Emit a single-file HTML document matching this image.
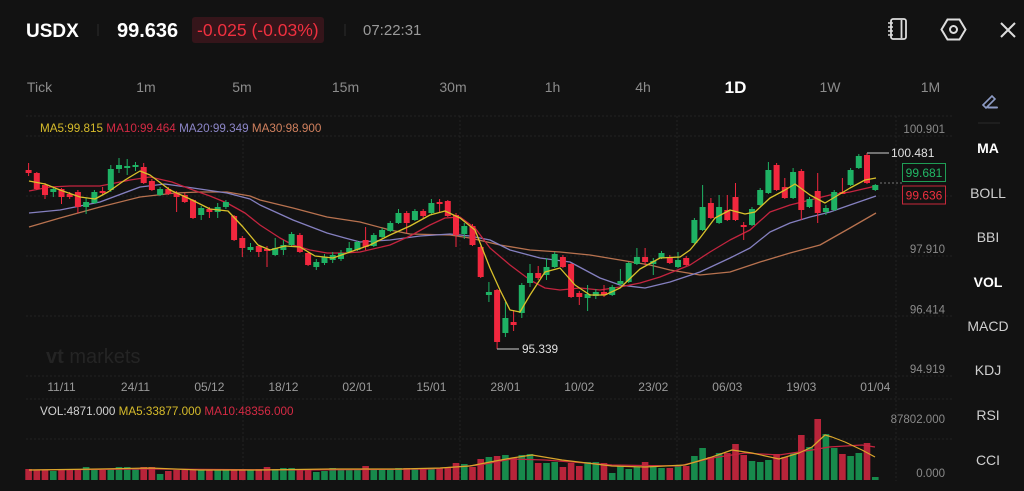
<!DOCTYPE html>
<html><head><meta charset="utf-8"><style>
html,body{margin:0;padding:0;background:#121212;}
svg{display:block;font-family:"Liberation Sans",sans-serif;}
</style></head><body>
<svg width="1024" height="491" viewBox="0 0 1024 491" xmlns="http://www.w3.org/2000/svg">
<rect width="1024" height="491" fill="#121212"/>
<!-- header -->
<text x="26" y="37" font-size="19" font-weight="bold" fill="#ffffff">USDX</text>
<line x1="98" y1="24" x2="98" y2="36" stroke="#2c2c2c"/>
<text x="117" y="37" font-size="20" font-weight="bold" fill="#ffffff">99.636</text>
<rect x="192" y="17" width="132" height="26" rx="3" fill="#35151a"/>
<text x="197" y="36" font-size="17.5" fill="#f0303f">-0.025 (-0.03%)</text>
<line x1="345" y1="24" x2="345" y2="36" stroke="#2c2c2c"/>
<text x="363" y="35" font-size="15" fill="#9a9a9a">07:22:31</text>
<!-- icons -->
<g stroke="#dddddd" fill="none" stroke-width="1.8">
<rect x="891" y="19" width="15" height="20" rx="2"/>
<line x1="901.5" y1="20" x2="901.5" y2="38"/>
<path d="M888 23h5M888 27h5M888 31h5M888 35h5" stroke-width="1.4"/>
<path d="M947.5 19.5L959.5 19.5L965.5 29.5L959.5 39.5L947.5 39.5L941.5 29.5Z" stroke-width="2"/>
<circle cx="953.5" cy="29.5" r="3.5" stroke-width="2"/>
<path d="M1001 23L1015 37M1015 23L1001 37" stroke-width="2"/>
</g>
<!-- timeframe row -->
<g font-size="14" fill="#8c8c8c" text-anchor="middle">
<text x="39.5" y="92">Tick</text>
<text x="146" y="92">1m</text>
<text x="242" y="92">5m</text>
<text x="345.5" y="92">15m</text>
<text x="453" y="92">30m</text>
<text x="552.5" y="92">1h</text>
<text x="643" y="92">4h</text>
<text x="830" y="92">1W</text>
<text x="930.5" y="92">1M</text>
</g>
<text x="735.5" y="93" font-size="17" font-weight="bold" fill="#ffffff" text-anchor="middle">1D</text>
<!-- pencil -->
<g stroke="#8d9bc4" stroke-width="2" fill="none" stroke-linecap="round">
<path d="M983 105L992 96L995 99L986 108Z" stroke-width="1.6"/>
<line x1="988" y1="107.5" x2="997" y2="107.5"/>
</g>
<line x1="978" y1="123" x2="1000" y2="123" stroke="#2a2a2a"/>
<!-- grid -->
<g stroke="#232323" stroke-width="1" stroke-dasharray="2 2">
<line x1="26" y1="116" x2="952" y2="116"/>
<line x1="26" y1="136" x2="952" y2="136"/>
<line x1="26" y1="196" x2="952" y2="196"/>
<line x1="26" y1="256" x2="952" y2="256"/>
<line x1="26" y1="316" x2="952" y2="316"/>
<line x1="26" y1="376" x2="952" y2="376"/>
<line x1="26" y1="399" x2="952" y2="399"/>
<line x1="26" y1="439" x2="952" y2="439"/>
<line x1="243" y1="116" x2="243" y2="481"/>
<line x1="460" y1="116" x2="460" y2="481"/>
<line x1="677" y1="116" x2="677" y2="481"/>
<line x1="896" y1="116" x2="896" y2="481"/>
</g>
<!-- watermark -->
<text x="46" y="363" font-size="20" fill="#242424"><tspan font-weight="bold">vt</tspan> markets</text>
<!-- legend -->
<text x="40" y="132" font-size="11.7"><tspan fill="#d6bb2b">MA5:99.815 </tspan><tspan fill="#d42a44">MA10:99.464 </tspan><tspan fill="#8c86c8">MA20:99.349 </tspan><tspan fill="#d0805e">MA30:98.900</tspan></text>
<!-- price axis -->
<g font-size="11.5" fill="#8a8a8a" text-anchor="end">
<text x="945" y="133">100.901</text>
<text x="945" y="253">97.910</text>
<text x="945" y="313.5">96.414</text>
<text x="945" y="373">94.919</text>
<text x="945" y="423">87802.000</text>
<text x="945" y="477">0.000</text>
</g>
<!-- MA lines -->
<g fill="none" stroke-width="1.3" stroke-linejoin="round">
<polyline stroke="#b8724f" points="29,227 60,218 100,207 140,197 175,193 200,192 227,192 250,196 260,200 293,208 327,217 360,222 390,230 410,234 450,235 470,238 500,245 530,250 560,252 590,255 620,260 650,265 670,270 700,275 730,272 760,262 790,253 820,245 850,228 876,213"/>
<polyline stroke="#8580c0" points="29,213 60,210 100,202 140,187 165,184 193,188 227,193 250,199 260,205 293,220 327,233 345,238 360,242 390,240 420,236 450,234 470,236 490,240 510,250 540,258 570,262 600,278 620,285 645,288 670,282 700,272 730,258 750,248 770,232 790,223 810,217 830,212 850,205 876,196"/>
<polyline stroke="#c4243f" points="29,191 50,187 70,186 100,186 130,180 150,177 172,182 193,190 210,196 227,203 245,213 260,225 280,238 293,245 310,250 327,253 345,253 360,252 390,245 410,236 430,225 445,218 460,217 475,228 490,248 510,265 530,280 545,288 560,290 580,288 600,290 620,287 640,283 660,277 690,265 710,252 730,240 750,230 770,212 790,205 810,200 830,195 850,192 876,186"/>
</g>
<!-- candles -->
<g stroke="#1eb264" stroke-width="1" fill="none">
<path d="M53.3 187V197M86.1 198V214M94.4 190V204M110.8 165V192M119 158V173M127.2 159V175M135.5 162V171M160.1 187V196M201.2 206V220M217.7 203V218M225.9 200V209M250.5 243V252M275.2 238V256M283.4 240V255M291.6 232V246M316.3 259V270M324.5 254V265M332.7 252V263M341 250V261M349.2 242V253M357.4 241V251M373.8 233V247M382.1 228V238M390.3 221V232M398.5 209V224M414.9 209V221M431.4 199V214M464.3 223V239M488.9 282V302M505.4 302V337M521.8 283V318M530 264V287M546.5 258V280M554.7 252V268M587.6 285V311M595.8 289V299M612.2 285V296M620.4 269V285M628.7 262V283M636.9 248V265M653.3 258V275M661.5 251V259M678 252V268M694.4 218V244M702.6 185V231M719.1 195V224M752 207V226M760.2 188V206M768.4 162V194M793.1 168V199M809.5 197V208M825.9 205V215M834.2 190V211M850.6 168V186M858.8 154V169M875.3 184V191"/>
</g>
<path fill="#1eb264" d="M50.3 189h6v3h-6zM83.1 202h6v5h-6zM91.4 192h6v11h-6zM107.8 169h6v21h-6zM116 165h6v4h-6zM124.2 166h6v2h-6zM132.5 165h6v2h-6zM157.1 189h6v6h-6zM198.2 208h6v7h-6zM214.7 207h6v5h-6zM222.9 202h6v5h-6zM247.5 247h6v3h-6zM272.2 248h6v7h-6zM280.4 245h6v5h-6zM288.6 234h6v11h-6zM313.3 262h6v5h-6zM321.5 257h6v6h-6zM329.7 255h6v5h-6zM338 253h6v6h-6zM346.2 248h6v4h-6zM354.4 242h6v8h-6zM370.8 235h6v11h-6zM379.1 230h6v7h-6zM387.3 223h6v8h-6zM395.5 213h6v10h-6zM411.9 211h6v9h-6zM428.4 203h6v10h-6zM461.3 226h6v8h-6zM485.9 292h6v3h-6zM502.4 318h6v15h-6zM518.8 285h6v28h-6zM527 273h6v10h-6zM543.5 267h6v8h-6zM551.7 254h6v13h-6zM584.6 294h6v4h-6zM592.8 292h6v4h-6zM609.2 287h6v8h-6zM617.4 281h6v3h-6zM625.7 263h6v19h-6zM633.9 257h6v7h-6zM650.3 261h6v3h-6zM658.5 253h6v5h-6zM675 260h6v7h-6zM691.4 220h6v23h-6zM699.6 207h6v23h-6zM716.1 207h6v16h-6zM749 209h6v16h-6zM757.2 190h6v15h-6zM765.4 170h6v23h-6zM790.1 172h6v26h-6zM806.5 199h6v8h-6zM822.9 208h6v4h-6zM831.2 192h6v18h-6zM847.6 170h6v15h-6zM855.8 156h6v12h-6zM872.3 185h6v5h-6z"/>
<g stroke="#f1273e" stroke-width="1" fill="none">
<path d="M28.6 163V176M36.8 172V190M45 183V199M61.5 188V204M69.7 192V199M77.9 190V213M102.6 187V195M143.7 163V184M151.9 179V191M168.3 187V195M176.6 191V212M184.8 193V203M193 199V219M209.4 207V218M234.1 215V241M242.3 236V257M258.8 245V257M267 246V267M299.9 233V253M308.1 252V266M365.6 227V250M406.7 211V233M423.2 209V218M439.6 199V212M447.8 200V217M456 213V247M472.5 224V246M480.7 246V278M497.1 289V349M513.6 310V331M538.2 266V280M562.9 255V268M571.1 263V298M579.3 291V305M604 285V297M645.1 248V265M669.8 255V264M686.2 256V266M710.9 198V219M727.3 195V221M735.5 183V221M743.7 222V240M776.6 163V191M784.8 178V199M801.3 169V220M817.7 173V223M842.4 178V194M867 153V184"/>
</g>
<path fill="#f1273e" d="M25.6 170h6v3h-6zM33.8 173h6v16h-6zM42 185h6v10h-6zM58.5 189h6v8h-6zM66.7 194h6v3h-6zM74.9 192h6v15h-6zM99.6 191h6v2h-6zM140.7 167h6v16h-6zM148.9 181h6v9h-6zM165.3 189h6v5h-6zM173.6 193h6v4h-6zM181.8 195h6v7h-6zM190 200h6v18h-6zM206.4 209h6v3h-6zM231.1 216h6v24h-6zM239.3 238h6v10h-6zM255.8 246h6v6h-6zM264 249h6v2h-6zM296.9 235h6v17h-6zM305.1 253h6v12h-6zM362.6 240h6v7h-6zM403.7 213h6v10h-6zM420.2 211h6v5h-6zM436.6 202h6v2h-6zM444.8 201h6v15h-6zM453 215h6v20h-6zM469.5 226h6v19h-6zM477.7 247h6v30h-6zM494.1 290h6v52h-6zM510.6 322h6v3h-6zM535.2 273h6v5h-6zM559.9 257h6v10h-6zM568.1 264h6v33h-6zM576.3 293h6v4h-6zM601 292h6v3h-6zM642.1 257h6v5h-6zM666.8 257h6v6h-6zM683.2 258h6v7h-6zM707.9 203h6v15h-6zM724.3 210h6v10h-6zM732.5 197h6v23h-6zM740.7 225h6v2h-6zM773.6 165h6v25h-6zM781.8 187h6v11h-6zM798.3 171h6v39h-6zM814.7 191h6v22h-6zM839.4 192h6v2h-6zM864 155h6v28h-6z"/>
<!-- MA5 on top -->
<polyline fill="none" stroke="#d9c12b" stroke-width="1.3" stroke-linejoin="round" points="29,181 45,184 60,190 80,197 95,199 108,192 125,180 140,171 150,175 170,190 190,199 210,209 228,211 243,227 258,245 270,250 285,246 300,247 315,256 333,258 350,252 370,245 390,235 410,226 430,215 445,211 460,218 475,230 490,268 500,290 510,310 520,312 530,295 545,272 560,268 575,285 590,295 605,295 620,288 640,269 660,258 680,257 690,250 700,238 715,218 730,210 745,214 755,212 770,198 785,190 795,184 810,195 825,203 835,197 850,188 865,180 876,178"/>
<!-- annotations -->
<line x1="867" y1="153" x2="889" y2="153" stroke="#aaaaaa" stroke-width="1.2"/>
<text x="891" y="157" font-size="12" fill="#e0e0e0">100.481</text>
<line x1="497" y1="349" x2="519" y2="349" stroke="#aaaaaa" stroke-width="1.2"/>
<text x="522" y="353" font-size="11.8" fill="#e0e0e0">95.339</text>
<line x1="880" y1="183" x2="902" y2="183" stroke="#777" stroke-dasharray="2 2"/>
<rect x="902.5" y="163.5" width="43" height="18" fill="#121212" stroke="#1f9d55"/>
<text x="924" y="177" font-size="12" fill="#22b866" text-anchor="middle">99.681</text>
<rect x="902.5" y="186" width="43" height="18" fill="#121212" stroke="#c8283a"/>
<text x="924" y="199.5" font-size="12" fill="#f0303f" text-anchor="middle">99.636</text>
<!-- dates -->
<g font-size="12" fill="#9a9a9a" text-anchor="middle">
<text x="61.5" y="391">11/11</text>
<text x="135.5" y="391">24/11</text>
<text x="209.4" y="391">05/12</text>
<text x="283.4" y="391">18/12</text>
<text x="357.4" y="391">02/01</text>
<text x="431.4" y="391">15/01</text>
<text x="505.4" y="391">28/01</text>
<text x="579.3" y="391">10/02</text>
<text x="653.3" y="391">23/02</text>
<text x="727.3" y="391">06/03</text>
<text x="801.3" y="391">19/03</text>
<text x="875.3" y="391">01/04</text>
</g>
<!-- volume legend -->
<text x="40" y="415" font-size="11.7"><tspan fill="#d0d0d0">VOL:4871.000 </tspan><tspan fill="#d6bb2b">MA5:33877.000 </tspan><tspan fill="#d42a44">MA10:48356.000</tspan></text>
<!-- volume bars -->
<path fill="#b8243a" d="M25.3 469h6.6v11h-6.6zM33.5 470h6.6v10h-6.6zM41.7 470h6.6v10h-6.6zM58.2 470h6.6v10h-6.6zM66.4 470h6.6v10h-6.6zM74.6 469h6.6v11h-6.6zM99.3 470h6.6v10h-6.6zM140.4 467h6.6v13h-6.6zM148.6 467h6.6v13h-6.6zM165 471h6.6v9h-6.6zM173.3 470h6.6v10h-6.6zM181.5 470h6.6v10h-6.6zM189.7 469h6.6v11h-6.6zM206.1 470h6.6v10h-6.6zM230.8 469h6.6v11h-6.6zM239 469h6.6v11h-6.6zM255.5 469h6.6v11h-6.6zM263.7 467h6.6v13h-6.6zM296.6 469h6.6v11h-6.6zM304.8 469h6.6v11h-6.6zM362.3 466h6.6v14h-6.6zM403.4 468h6.6v12h-6.6zM419.9 468h6.6v12h-6.6zM436.3 468h6.6v12h-6.6zM444.5 468h6.6v12h-6.6zM452.7 463h6.6v17h-6.6zM469.2 467h6.6v13h-6.6zM477.4 459h6.6v21h-6.6zM493.8 456h6.6v24h-6.6zM510.3 458h6.6v22h-6.6zM534.9 463h6.6v17h-6.6zM559.6 467h6.6v13h-6.6zM567.8 463h6.6v17h-6.6zM576 466h6.6v14h-6.6zM600.7 463h6.6v17h-6.6zM641.8 462h6.6v18h-6.6zM666.5 468h6.6v12h-6.6zM682.9 466h6.6v14h-6.6zM707.6 457h6.6v23h-6.6zM724 453h6.6v27h-6.6zM732.2 444h6.6v36h-6.6zM740.4 455h6.6v25h-6.6zM773.3 454h6.6v26h-6.6zM781.5 457h6.6v23h-6.6zM798 435h6.6v45h-6.6zM814.4 419h6.6v61h-6.6zM839.1 454h6.6v26h-6.6zM863.7 443h6.6v37h-6.6z"/>
<path fill="#178a4c" d="M50 471h6.6v9h-6.6zM82.8 467h6.6v13h-6.6zM91.1 470h6.6v10h-6.6zM107.5 469h6.6v11h-6.6zM115.7 467h6.6v13h-6.6zM123.9 467h6.6v13h-6.6zM132.2 469h6.6v11h-6.6zM156.8 474h6.6v6h-6.6zM197.9 470h6.6v10h-6.6zM214.4 470h6.6v10h-6.6zM222.6 470h6.6v10h-6.6zM247.2 470h6.6v10h-6.6zM271.9 469h6.6v11h-6.6zM280.1 468h6.6v12h-6.6zM288.3 468h6.6v12h-6.6zM313 472h6.6v8h-6.6zM321.2 471h6.6v9h-6.6zM329.4 468h6.6v12h-6.6zM337.7 470h6.6v10h-6.6zM345.9 470h6.6v10h-6.6zM354.1 470h6.6v10h-6.6zM370.5 469h6.6v11h-6.6zM378.8 469h6.6v11h-6.6zM387 469h6.6v11h-6.6zM395.2 468h6.6v12h-6.6zM411.6 469h6.6v11h-6.6zM428.1 468h6.6v12h-6.6zM461 464h6.6v16h-6.6zM485.6 457h6.6v23h-6.6zM502.1 455h6.6v25h-6.6zM518.5 455h6.6v25h-6.6zM526.7 454h6.6v26h-6.6zM543.2 463h6.6v17h-6.6zM551.4 462h6.6v18h-6.6zM584.3 462h6.6v18h-6.6zM592.5 462h6.6v18h-6.6zM608.9 473h6.6v7h-6.6zM617.1 466h6.6v14h-6.6zM625.4 469h6.6v11h-6.6zM633.6 467h6.6v13h-6.6zM650 466h6.6v14h-6.6zM658.2 468h6.6v12h-6.6zM674.7 466h6.6v14h-6.6zM691.1 456h6.6v24h-6.6zM699.3 448h6.6v32h-6.6zM715.8 453h6.6v27h-6.6zM748.7 461h6.6v19h-6.6zM756.9 462h6.6v18h-6.6zM765.1 460h6.6v20h-6.6zM789.8 453h6.6v27h-6.6zM806.2 447h6.6v33h-6.6zM822.6 434h6.6v46h-6.6zM830.9 448h6.6v32h-6.6zM847.3 456h6.6v24h-6.6zM855.5 453h6.6v27h-6.6zM872 477h6.6v3h-6.6z"/>
<!-- volume MA lines -->
<g fill="none" stroke-width="1.2" stroke-linejoin="round">
<polyline stroke="#c4243f" points="29,470 150,469 300,470 430,469 480,465 512,459 545,460 612,465 679,466 712,458 745,453 779,455 812,450 829,447 862,445 875,447"/>
<polyline stroke="#d9a52b" points="29,470 100,469 150,468 200,470 260,470 330,469 400,469 440,468 470,466 490,462 512,458 532,455 562,460 612,466 645,467 685,465 712,457 732,450 752,453 779,459 799,453 812,447 825,435 832,437 845,442 862,450 875,457"/>
</g>
<!-- right panel -->
<g font-size="14" text-anchor="middle" fill="#cfcfcf">
<text x="988" y="153" font-weight="bold" fill="#ffffff">MA</text>
<text x="988" y="198">BOLL</text>
<text x="988" y="242">BBI</text>
<text x="988" y="287" font-weight="bold" fill="#ffffff">VOL</text>
<text x="988" y="331">MACD</text>
<text x="988" y="375">KDJ</text>
<text x="988" y="420">RSI</text>
<text x="988" y="465">CCI</text>
</g>
</svg>
</body></html>
